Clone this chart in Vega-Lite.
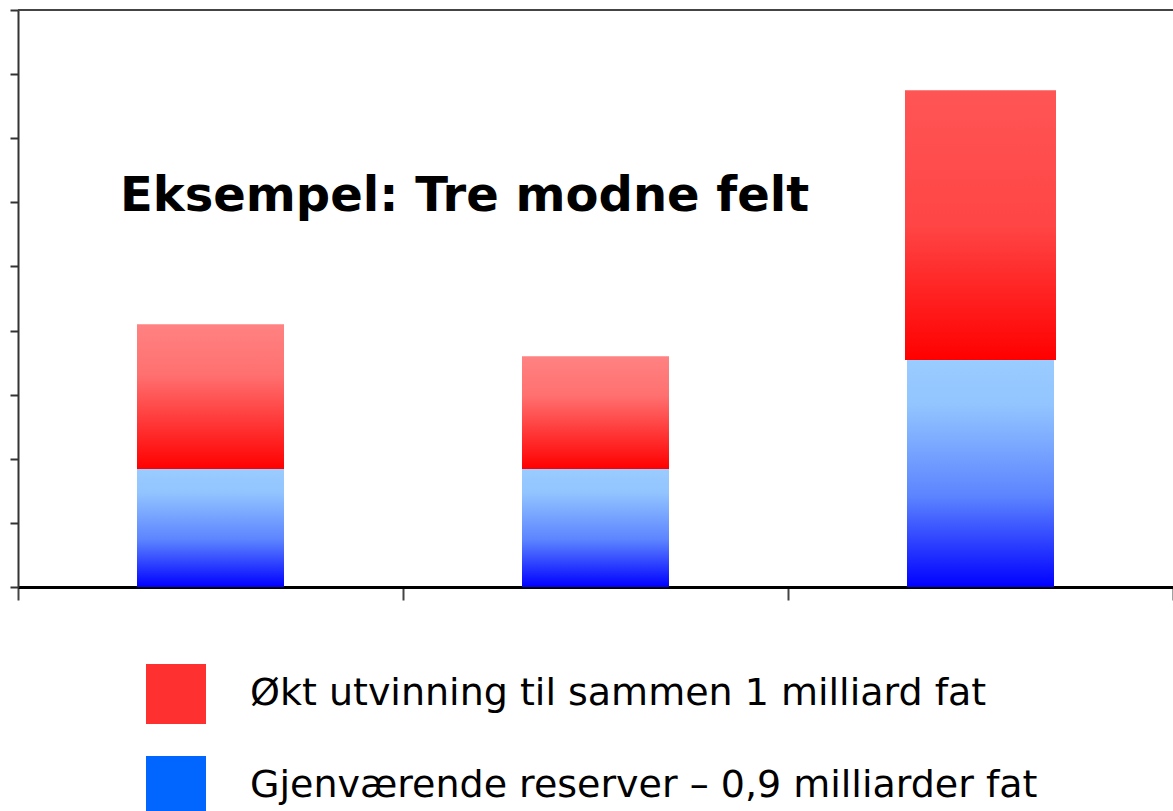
{
  "$schema": "https://vega.github.io/schema/vega-lite/v6.json",
  "autosize": {"type": "none"},
  "padding": {"left": 18, "top": 10, "right": 0, "bottom": 224},
  "width": 1155,
  "height": 577,
  "background": "white",
  "view": {"stroke": null},
  "config": {
    "font": "DejaVu Sans"
  },
  "title": {
    "text": "Eksempel: Tre modne felt",
    "anchor": "start",
    "frame": "group",
    "orient": "top",
    "offset": 0,
    "baseline": "alphabetic",
    "dx": 102,
    "dy": 250,
    "font": "DejaVu Sans",
    "fontSize": 48,
    "fontWeight": "bold",
    "color": "#000"
  },
  "data": {
    "values": [
      {"felt": "A", "serie": "Gjenværende reserver – 0,9 milliarder fat", "start": 0, "end": 1.84},
      {"felt": "B", "serie": "Gjenværende reserver – 0,9 milliarder fat", "start": 0, "end": 1.84},
      {"felt": "C", "serie": "Gjenværende reserver – 0,9 milliarder fat", "start": 0, "end": 3.54},
      {"felt": "A", "serie": "Økt utvinning til sammen 1 milliard fat", "start": 1.84, "end": 4.1},
      {"felt": "B", "serie": "Økt utvinning til sammen 1 milliard fat", "start": 1.84, "end": 3.6},
      {"felt": "C", "serie": "Økt utvinning til sammen 1 milliard fat", "start": 3.54, "end": 7.75}
    ]
  },
  "encoding": {
    "x": {
      "field": "felt", "type": "nominal",
      "scale": {"domain": ["A", "B", "C"], "paddingInner": 0, "paddingOuter": 0},
      "axis": {
        "title": null, "labels": false, "tickBand": "extent",
        "tickSize": 13, "tickColor": "#444", "tickWidth": 2,
        "domainColor": "#000", "domainWidth": 3
      }
    },
    "y": {
      "field": "start", "type": "quantitative",
      "scale": {"domain": [0, 9], "nice": false, "zero": true},
      "axis": {
        "title": null, "labels": false, "grid": false,
        "values": [0, 1, 2, 3, 4, 5, 6, 7, 8, 9],
        "tickSize": 8, "tickColor": "#333", "tickWidth": 2,
        "domainColor": "#333", "domainWidth": 2
      }
    }
  },
  "layer": [
    {
      "mark": {"type": "rule", "stroke": "#444", "strokeWidth": 2},
      "encoding": {"y": {"datum": 9}, "x": null}
    },
    {
      "transform": [{"filter": "datum.serie !== 'Økt utvinning til sammen 1 milliard fat'"}],
      "mark": {
        "type": "bar", "width": 147,
        "color": {
          "gradient": "linear", "x1": 0, "y1": 0, "x2": 0, "y2": 1,
          "stops": [
            {"offset": 0, "color": "#9ACCFF"},
            {"offset": 0.2, "color": "#92C4FF"},
            {"offset": 0.6, "color": "#5C84FF"},
            {"offset": 1, "color": "#0000FF"}
          ]
        }
      },
      "encoding": {"y2": {"field": "end"}}
    },
    {
      "transform": [{"filter": "datum.serie === 'Økt utvinning til sammen 1 milliard fat' && datum.felt !== 'C'"}],
      "mark": {
        "type": "bar", "width": 147,
        "color": {
          "gradient": "linear", "x1": 0, "y1": 0, "x2": 0, "y2": 1,
          "stops": [
            {"offset": 0, "color": "#FF8282"},
            {"offset": 0.35, "color": "#FF7070"},
            {"offset": 1, "color": "#FF0000"}
          ]
        }
      },
      "encoding": {"y2": {"field": "end"}}
    },
    {
      "transform": [{"filter": "datum.serie === 'Økt utvinning til sammen 1 milliard fat' && datum.felt === 'C'"}],
      "mark": {
        "type": "bar", "width": 151,
        "color": {
          "gradient": "linear", "x1": 0, "y1": 0, "x2": 0, "y2": 1,
          "stops": [
            {"offset": 0, "color": "#FF5555"},
            {"offset": 0.5, "color": "#FF4545"},
            {"offset": 1, "color": "#FF0000"}
          ]
        }
      },
      "encoding": {"y2": {"field": "end"}}
    },
    {
      "mark": {"type": "square", "opacity": 0},
      "encoding": {
        "color": {
          "field": "serie", "type": "nominal",
          "scale": {
            "domain": ["Økt utvinning til sammen 1 milliard fat", "Gjenværende reserver – 0,9 milliarder fat"],
            "range": ["#FF3030", "#0066FF"]
          },
          "legend": {
            "title": null,
            "orient": "none",
            "legendX": 128,
            "legendY": 654,
            "padding": 0,
            "symbolType": "square",
            "symbolSize": 3600,
            "symbolOpacity": 1,
            "symbolStrokeWidth": 0,
            "rowPadding": 32,
            "labelOffset": 44,
            "labelFontSize": 38,
            "labelColor": "#000",
            "labelFont": "DejaVu Sans",
            "labelLimit": 1000
          }
        }
      }
    }
  ]
}
